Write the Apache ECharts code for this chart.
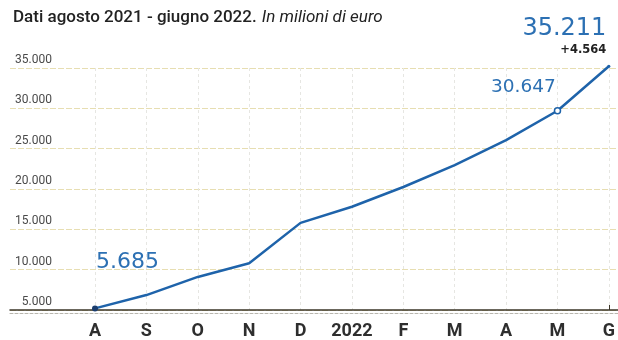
<!DOCTYPE html>
<html>
<head>
<meta charset="utf-8">
<script src="https://cdn.jsdelivr.net/npm/echarts@6/dist/echarts.min.js"></script>
<style>
html,body{margin:0;padding:0;background:#fff;}
#chart{width:618px;height:340px;}
</style>
</head>
<body>
<div id="chart"></div>
<script>
// ---- data ----
var months = ['A', 'S', 'O', 'N', 'D', '2022', 'F', 'M', 'A', 'M', 'G'];
var values = [5200, 6850, 9100, 10800, 15800, 17800, 20250, 22950, 26050, 29700, 35211];
var yTickValues = [5000, 10000, 15000, 20000, 25000, 30000, 35000];
var yTickLabels = ['5.000', '10.000', '15.000', '20.000', '25.000', '30.000', '35.000'];
var calloutIndex = [0, 9, 10];
var calloutText = ['5.685', '30.647', '35.211'];
var deltaText = '+4.564';
var titleMain = 'Dati agosto 2021 - giugno 2022.';
var titleSub = 'In milioni di euro';

var BLUE = '#1e63aa';
var LABEL_BLUE = '#2c70b3';

var chart = echarts.init(document.getElementById('chart'), null, {renderer: 'canvas'});

var seriesData = values.map(function (v, i) {
  var item = {value: v};
  var k = calloutIndex.indexOf(i);
  if (i === 0) {
    item.symbolSize = 6;
    item.itemStyle = {color: '#1b3d6e', borderWidth: 0};
    item.label = {
      show: true, formatter: calloutText[k], position: [4, -43],
      align: 'left', verticalAlign: 'middle',
      fontFamily: 'DejaVu Sans', fontSize: 22, color: LABEL_BLUE
    };
  } else if (i === 9) {
    item.symbolSize = 6;
    item.itemStyle = {color: '#ffffff', borderColor: BLUE, borderWidth: 1.5};
    item.label = {
      show: true, formatter: calloutText[k], position: [2, -20],
      align: 'right', verticalAlign: 'middle',
      fontFamily: 'DejaVu Sans', fontSize: 18.5, color: LABEL_BLUE
    };
  } else if (i === 10) {
    item.symbolSize = 3;
    item.itemStyle = {color: BLUE, borderWidth: 0};
    item.label = {
      show: true,
      formatter: '{big|' + calloutText[k] + '}\n{small|' + deltaText + '}',
      position: [-1, -8], align: 'right', verticalAlign: 'bottom',
      rich: {
        big: {fontFamily: 'DejaVu Sans', fontSize: 24, lineHeight: 28, color: LABEL_BLUE, align: 'right'},
        small: {fontFamily: 'DejaVu Sans', fontSize: 11.5, fontWeight: 'bold', lineHeight: 14, color: '#222', align: 'right'}
      }
    };
  }
  return item;
});

var option = {
  backgroundColor: '#ffffff',
  animation: false,
  title: {
    left: 8, top: 4,
    text: '{a|' + titleMain + '} {b|' + titleSub + '}',
    textStyle: {
      fontWeight: 'normal',
      rich: {
        a: {fontFamily: 'Roboto', fontSize: 17, fontWeight: 500, color: '#222'},
        b: {fontFamily: 'Roboto', fontSize: 17, fontWeight: 'normal', fontStyle: 'italic', color: '#222'}
      }
    }
  },
  grid: [
    {left: 10, right: 0, top: 68, bottom: 30},
    {left: 95, right: 8, top: 68, bottom: 30}
  ],
  xAxis: [
    {
      gridIndex: 0, type: 'value', min: 0, max: 1, position: 'bottom',
      axisLine: {show: true, onZero: false, lineStyle: {color: '#3b3628', width: 1.5}},
      axisTick: {show: false}, axisLabel: {show: false}, splitLine: {show: false}
    },
    {
      gridIndex: 0, type: 'value', min: 0, max: 1, offset: 3, position: 'bottom',
      axisLine: {show: true, onZero: false, lineStyle: {color: '#b8b6ae', width: 1, type: [3, 2]}},
      axisTick: {show: false}, axisLabel: {show: false}, splitLine: {show: false}
    },
    {
      gridIndex: 1, type: 'category', data: months, boundaryGap: false, position: 'bottom',
      axisLine: {show: false},
      axisTick: {
        show: true, inside: true, length: 5,
        interval: function (idx) { return idx === months.length - 1; },
        lineStyle: {color: '#3b3628', width: 1}
      },
      axisLabel: {
        interval: 0, margin: 12, fontFamily: 'Roboto', fontSize: 18,
        fontWeight: 'bold', color: '#2e2e2e'
      },
      splitLine: {show: true, lineStyle: {color: '#e6e6e2', width: 1, type: [3, 3]}}
    }
  ],
  yAxis: [
    {
      gridIndex: 0, type: 'value', min: yTickValues[0], max: yTickValues[yTickValues.length - 1],
      interval: yTickValues[1] - yTickValues[0],
      axisLine: {show: false}, axisTick: {show: false},
      axisLabel: {
        inside: true, margin: 42, align: 'right', verticalAlign: 'bottom',
        fontFamily: 'Roboto', fontSize: 12, color: '#4a4a4a', padding: [0, 0, 2, 0],
        formatter: function (v) { return yTickLabels[yTickValues.indexOf(v)]; }
      },
      splitLine: {show: true, lineStyle: {color: '#e7deb2', width: 1, type: [6, 2]}}
    },
    {
      gridIndex: 1, type: 'value', min: yTickValues[0], max: yTickValues[yTickValues.length - 1],
      interval: yTickValues[1] - yTickValues[0], show: false,
      splitLine: {show: false}
    }
  ],
  series: [{
    type: 'line',
    xAxisIndex: 2, yAxisIndex: 1,
    data: seriesData,
    clip: false,
    symbol: 'circle', symbolSize: 0, showSymbol: true,
    lineStyle: {color: BLUE, width: 2.5},
    itemStyle: {color: BLUE},
    label: {show: false},
    labelLayout: {hideOverlap: false},
    z: 5
  }]
};
chart.setOption(option);
</script>
</body>
</html>
